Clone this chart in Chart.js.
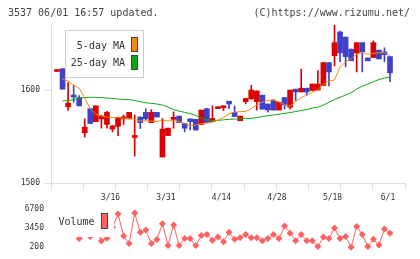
<!DOCTYPE html>
<html>
<head>
<meta charset="utf-8">
<script src="https://cdn.jsdelivr.net/npm/chart.js@4.4.0/dist/chart.umd.min.js"></script>
<style>
body { margin: 0; background: #fff; }
#wrap { position: relative; width: 420px; height: 259px; overflow: hidden; font-family: "DejaVu Sans Mono", monospace; }
#wrap canvas { position: absolute; left: 0; top: 0; }
.hd { position: absolute; top: 6px; font-size: 10px; line-height: 14px; color: #444; white-space: pre; }
</style>
</head>
<body>
<div id="wrap">
  <canvas id="price" width="420" height="259"></canvas>
  <canvas id="vol" width="420" height="259"></canvas>
  <div class="hd" style="left:8px">3537 06/01 16:57 updated.</div>
  <div class="hd" style="right:10px">(C)https://www.rizumu.net/</div>
</div>
<script>
// trading days 2020/03/02 - 2020/06/01
const dates = [
  "3/2","3/3","3/4","3/5","3/6","3/9","3/10","3/11","3/12","3/13",
  "3/16","3/17","3/18","3/19","3/23","3/24","3/25","3/26","3/27","3/30",
  "3/31","4/1","4/2","4/3","4/6","4/7","4/8","4/9","4/10","4/13",
  "4/14","4/15","4/16","4/17","4/20","4/21","4/22","4/23","4/24","4/27",
  "4/28","4/30","5/1","5/7","5/8","5/11","5/12","5/13","5/14","5/15",
  "5/18","5/19","5/20","5/21","5/22","5/25","5/26","5/27","5/28","5/29",
  "6/1"
];
const openP = [
  1620,1623,1582,1594,1592,1554,1580,1566,1569,1563,
  1558,1561,1569,1569,1549,1571,1576,1565,1576,1528,
  1551,1568.5,1572,1564,1569,1568.5,1563,1580,1566,1580,
  1581,1588,1576,1567,1587.5,1590.5,1587.5,1594.5,1585,1589,
  1578.5,1592,1581.5,1601,1598,1602,1599.5,1600,1605,1629.5,
  1637,1662.5,1657,1644,1640,1651,1634.5,1635,1643,1641,
  1636
];
const closeP = [
  1620,1601,1586,1592.5,1583,1560,1564,1583,1572,1576,
  1561.5,1570.5,1570,1576,1551,1565,1569,1576,1571,1558,
  1559,1570.5,1565,1559,1566,1557,1578.5,1565,1569.5,1580.5,
  1581.5,1585,1571.5,1572,1591,1600,1599,1579.5,1578.5,1578.5,
  1587,1584,1600,1598,1602,1598,1606.5,1606.5,1629.5,1619.5,
  1651,1640,1636,1631.5,1651,1641,1631.5,1651,1633.5,1638,
  1618.5
];
const highP = [
  1620,1623,1608,1605,1594,1569,1580,1583,1573,1577,
  1562,1571,1573,1576,1573,1571,1580,1579,1576,1569.5,
  1559,1576.5,1572,1564,1569,1568.5,1578.5,1580,1583,1580.5,
  1581.5,1588,1583,1572,1591,1605,1599,1594.5,1585,1590,
  1587,1592,1600,1601,1622.5,1602,1606.5,1621,1630,1629.5,
  1670,1663.5,1657,1644,1651,1651,1634.5,1653,1643,1645.5,
  1636
];
const lowP = [
  1620,1601,1578,1587,1583,1549.5,1564,1566,1559,1559,
  1555,1551,1563,1569,1529,1558.5,1568,1565,1571,1528,
  1551,1559,1565,1555,1557,1557,1563,1565,1566,1580,
  1578,1580,1571.5,1567,1585,1590,1578.5,1579.5,1576.5,1578.5,
  1578.5,1579.5,1579.5,1589,1598,1594.5,1599.5,1600,1605,1604.5,
  1626,1630.5,1625,1631.5,1619.5,1619.5,1631.5,1635,1633.5,1630.5,
  1609
];
const ma5 = [
  null,1611.8,1609.7,1605.4,1602,1591.4,1579.6,1574.2,1572,1571,
  1570.4,1570.4,1569.6,1569.4,1568.5,1566.7,1566.7,1566.7,1566,1567.7,
  1566.7,1567.2,1566.1,1564.2,1561.6,1562.4,1563.8,1564.5,1565.6,1567.7,
  1570.6,1574.2,1576.3,1576.7,1577.1,1580,1583.9,1587.1,1589,1589.2,
  1587.1,1584.4,1582.5,1587.6,1591.8,1594.6,1597.5,1600.5,1606.5,1609.7,
  1610.8,1624.7,1630,1633.7,1638.4,1640.5,1638.4,1639.5,1640.3,1640.1,
  1636.6
];
const ma25 = [
  null,1588.2,1588.7,1589.8,1591.4,1591.9,1592.2,1592.2,1591.9,1591.4,
  1591,1590.3,1590,1589.8,1588.7,1587.4,1586.3,1585.7,1585,1583.9,
  1581.7,1579,1577.4,1576,1574.7,1572.6,1569.9,1567.7,1567.2,1567.4,
  1568,1568.5,1568.8,1569.1,1569.6,1569.6,1570.4,1571.5,1572.4,1573.1,
  1574,1575,1575.8,1576.9,1578,1579,1580.6,1581.7,1583.9,1586.8,
  1589.8,1592.2,1594.6,1597.1,1601.1,1604.1,1606.5,1609,1611.3,1612.9,
  1614.3
];
const volume = [
  3000,3500,2800,3200,1660,3000,2040,3300,1260,1740,
  3600,5840,2100,850,6000,2750,3120,850,1500,4210,
  480,3990,480,1660,1660,480,2200,2360,1390,1940,
  1130,2750,1550,1820,2360,1820,1820,1290,1660,2360,
  1660,3820,2590,1290,2360,1290,1290,310,1940,1660,
  3450,1660,2040,200,3730,2360,310,1550,570,3290,
  2590
];
const priceTicks = [1500, 1600];
const volTicks = [200, 3450, 6700];

const RED = "#dd0000";
const BLUE = "#4040c8";
const ORANGE = "#f08c10";
const GREEN = "#10a810";
const VOLC = "#ff6060";
const AXIS = "#dddddd";
const TXT = "#333333";
const FONT = "DejaVu Sans Mono";
const X_MIN = -1.08, X_MAX = 62.7;

const idx = dates.map((d, i) => i);
const candleColor = idx.map(i => closeP[i] >= openP[i] ? RED : BLUE);

// legend boxes with white background, drawn over the data like the original
const priceLegend = {
    id: "priceLegend",
    afterDatasetsDraw(chart) {
        const ctx = chart.ctx;
        ctx.save();
        ctx.fillStyle = "#fff";
        ctx.fillRect(65, 30, 78, 47);
        ctx.strokeStyle = "#cccccc";
        ctx.lineWidth = 1;
        ctx.strokeRect(65.5, 30.5, 78, 47);
        ctx.font = "10px '" + FONT + "'";
        ctx.fillStyle = TXT;
        ctx.textAlign = "right";
        ctx.textBaseline = "middle";
        ctx.fillText("5-day MA", 125, 46);
        ctx.fillText("25-day MA", 125, 63);
        ctx.fillStyle = ORANGE;
        ctx.fillRect(131, 37, 6, 15);
        ctx.fillStyle = GREEN;
        ctx.fillRect(131, 55, 6, 15);
        ctx.strokeStyle = "#444";
        ctx.strokeRect(131.5, 37.5, 6, 14);
        ctx.strokeRect(131.5, 55.5, 6, 14);
        ctx.restore();
    }
};

const volLegend = {
    id: "volLegend",
    afterDatasetsDraw(chart) {
        const ctx = chart.ctx;
        ctx.save();
        ctx.fillStyle = "#fff";
        ctx.fillRect(54, 209, 60, 28);
        ctx.font = "10px '" + FONT + "'";
        ctx.fillStyle = TXT;
        ctx.textAlign = "left";
        ctx.textBaseline = "middle";
        ctx.fillText("Volume", 58.5, 222);
        ctx.fillStyle = VOLC;
        ctx.fillRect(101, 213, 7, 16);
        ctx.strokeStyle = "#444";
        ctx.strokeRect(101.5, 213.5, 6, 15);
        ctx.restore();
    }
};

new Chart(document.getElementById("price").getContext("2d"), {
    data: {
        datasets: [
            {
                type: "line", label: "5-day MA", order: 0,
                data: idx.filter(i => ma5[i] !== null).map(i => ({ x: i, y: ma5[i] })),
                borderColor: ORANGE, borderWidth: 1, pointRadius: 0, xAxisID: "x", yAxisID: "y"
            },
            {
                type: "line", label: "25-day MA", order: 0,
                data: idx.filter(i => ma25[i] !== null).map(i => ({ x: i, y: ma25[i] })),
                borderColor: GREEN, borderWidth: 1, pointRadius: 0, xAxisID: "x", yAxisID: "y"
            },
            {
                type: "bar", label: "wick", order: 1, grouped: false,
                data: idx.map(i => ({ x: i, y: [lowP[i], highP[i]] })),
                backgroundColor: candleColor, barThickness: 1, xAxisID: "x", yAxisID: "y"
            },
            {
                type: "bar", label: "body", order: 1, grouped: false,
                data: idx.map(i => ({ x: i, y: [openP[i], closeP[i]] })),
                backgroundColor: candleColor, barThickness: 5, minBarLength: 2, xAxisID: "x", yAxisID: "y"
            }
        ]
    },
    options: {
        responsive: false,
        animation: false,
        layout: { padding: { left: 0, right: 15, top: 25, bottom: 54 } },
        plugins: { legend: { display: false }, tooltip: { enabled: false } },
        scales: {
            x: {
                type: "linear", min: X_MIN, max: X_MAX, position: "bottom", weight: 1, offset: false,
                grid: { display: false, drawTicks: false, offset: false },
                border: { display: false },
                afterBuildTicks: s => { s.ticks = idx.filter(i => i > 0 && i % 10 === 0).map(v => ({ value: v })); },
                ticks: {
                    callback: v => dates[v], autoSkip: false, maxRotation: 0, labelOffset: -2,
                    font: { family: FONT, size: 8 }, color: TXT, padding: 3
                },
                afterFit: s => { s.height = 15; }
            },
            xg: {
                type: "linear", min: 0, max: 11, position: "bottom", weight: 0, offset: false,
                grid: { drawOnChartArea: false, tickLength: 6, color: AXIS, offset: false },
                border: { color: AXIS },
                afterBuildTicks: s => {
                    const t = [];
                    for (let k = 0; k <= 11; k++) t.push({ value: k });
                    s.ticks = t;
                },
                ticks: { display: false },
                afterFit: s => { s.height = 7; }
            },
            y: {
                min: 1500, max: 1670,
                grid: { drawOnChartArea: false, tickLength: 6, color: AXIS },
                border: { color: AXIS },
                afterBuildTicks: s => { s.ticks = priceTicks.map(v => ({ value: v })); },
                ticks: { callback: v => String(v), font: { family: FONT, size: 8 }, color: TXT, padding: 5 },
                afterFit: s => { s.width = 51; }
            }
        }
    },
    plugins: [priceLegend]
});

new Chart(document.getElementById("vol").getContext("2d"), {
    type: "line",
    data: {
        datasets: [{
            label: "Volume",
            data: idx.map(i => ({ x: i, y: volume[i] })),
            borderColor: VOLC, borderWidth: 1,
            pointStyle: "rectRot", pointRadius: 3.5,
            pointBackgroundColor: VOLC, pointBorderWidth: 0,
            clip: false
        }]
    },
    options: {
        responsive: false,
        animation: false,
        layout: { padding: { left: 0, right: 15, top: 209, bottom: 10 } },
        plugins: { legend: { display: false }, tooltip: { enabled: false } },
        scales: {
            x: { type: "linear", min: X_MIN, max: X_MAX, display: false },
            y: {
                min: 200, max: 6700,
                grid: { display: false, drawTicks: false },
                border: { display: false },
                afterBuildTicks: s => { s.ticks = volTicks.map(v => ({ value: v })); },
                ticks: { callback: v => String(v), font: { family: FONT, size: 8 }, color: TXT, padding: 7 },
                afterFit: s => { s.width = 51; }
            }
        }
    },
    plugins: [volLegend]
});
</script>
</body>
</html>
